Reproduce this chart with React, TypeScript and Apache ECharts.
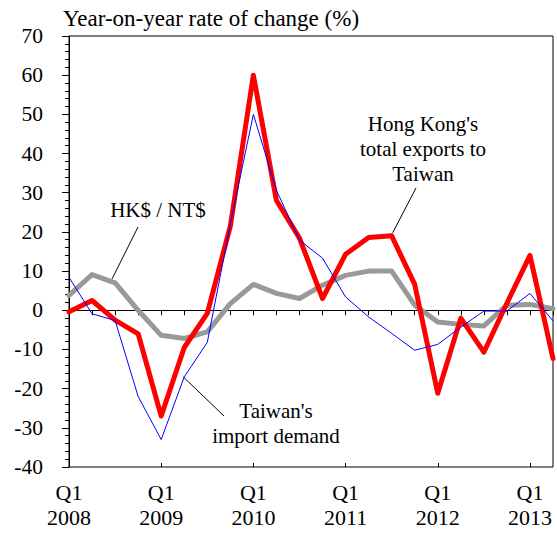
import React, { useEffect, useRef } from "react";
import * as echarts from "echarts";

const categories = [
  "Q1 2008", "Q2 2008", "Q3 2008", "Q4 2008",
  "Q1 2009", "Q2 2009", "Q3 2009", "Q4 2009",
  "Q1 2010", "Q2 2010", "Q3 2010", "Q4 2010",
  "Q1 2011", "Q2 2011", "Q3 2011", "Q4 2011",
  "Q1 2012", "Q2 2012", "Q3 2012", "Q4 2012",
  "Q1 2013", "Q2 2013",
];
const hkExportsToTaiwan = [-0.4, 2.5, -2.5, -6, -27, -9.5, -0.8, 21.5, 60, 28, 18.4, 3, 14.3, 18.6, 19, 6.6, -21.2, -2, -10.7, 1.8, 14, -12.3];
const taiwanImportDemand = [8.4, -0.9, -2.6, -22, -33, -17, -8.2, 22, 50, 30.6, 17.9, 13.3, 3.4, -1.7, -5.9, -10.2, -8.7, -4.3, -0.2, -0.2, 4.3, -2.7];
const hkdPerNtd = [3.8, 9.1, 7, 0, -6.4, -7.2, -5.5, 1.7, 6.6, 4.3, 3, 6.4, 8.9, 10, 10, 1.3, -3, -3.6, -4, 1.3, 1.5, 0.4];

const yMin = -40;
const yMax = 70;
const yStep = 10;

const FONT = "Liberation Serif";

export default function App() {
  const ref = useRef<HTMLDivElement>(null);
  useEffect(() => {
    if (!ref.current) return;
    document.body.style.margin = "0";
    const chart = echarts.init(ref.current, undefined, { renderer: "svg" });
    chart.setOption({
      animation: false,
      backgroundColor: "#fff",
      title: {
        text: "Year-on-year rate of change (%)",
        left: 63,
        top: 7,
        padding: 0,
        textStyle: { fontFamily: FONT, fontSize: 23, fontWeight: "normal", color: "#000" },
      },
      grid: {
        left: 69,
        right: 4,
        top: 36,
        bottom: 67,
        show: true,
        borderColor: "#000",
        borderWidth: 1,
        backgroundColor: "transparent",
      },
      xAxis: [
        {
          type: "category",
          data: categories,
          boundaryGap: false,
          axisLine: { lineStyle: { color: "#000", width: 1 } },
          axisTick: { show: true, interval: 0, length: 5, inside: false, lineStyle: { color: "#000" } },
          axisLabel: {
            fontFamily: FONT,
            fontSize: 22,
            color: "#000",
            interval: 3,
            margin: 13,
            lineHeight: 25,
            formatter: (v: string) => {
              const [q, y] = v.split(" ");
              return q + "\n" + y;
            },
          },
          splitLine: { show: false },
        },
        {
          type: "category",
          data: categories,
          boundaryGap: false,
          position: "bottom",
          axisLine: { show: false },
          axisTick: { show: true, interval: 3, length: 4, inside: true, lineStyle: { color: "#000" } },
          axisLabel: { show: false },
          splitLine: { show: false },
        },
      ],
      yAxis: {
        type: "value",
        min: yMin,
        max: yMax,
        interval: yStep,
        axisLine: { show: true, lineStyle: { color: "#000", width: 1 } },
        axisTick: { show: true, length: 7, lineStyle: { color: "#000" } },
        minorTick: { show: true, splitNumber: 5, length: 4, lineStyle: { color: "#000" } },
        axisLabel: { fontFamily: FONT, fontSize: 21.5, color: "#000", margin: 26 },
        splitLine: { show: false },
      },
      series: [
        {
          name: "HK$ / NT$",
          type: "line",
          data: hkdPerNtd,
          symbol: "none",
          lineStyle: { color: "#999999", width: 5, join: "round", cap: "round" },
          z: 2,
          markLine: {
            silent: true,
            symbol: "none",
            label: { show: false },
            lineStyle: { color: "#000", width: 1, type: "solid" },
            data: [{ yAxis: 0 }],
            z: 1,
          },
        },
        {
          name: "Hong Kong's total exports to Taiwan",
          type: "line",
          data: hkExportsToTaiwan,
          symbol: "none",
          lineStyle: { color: "#ff0000", width: 5, join: "round", cap: "round" },
          z: 3,
        },
        {
          name: "Taiwan's import demand",
          type: "line",
          data: taiwanImportDemand,
          symbol: "none",
          lineStyle: { color: "#0000ff", width: 1 },
          z: 4,
        },
      ],
    });

    const px = (i: number, v: number) => chart.convertToPixel({ gridIndex: 0 }, [i, v]) as number[];
    const red = px(14, hkExportsToTaiwan[14]);
    const gray = px(2, hkdPerNtd[2]);
    const blue = px(5, taiwanImportDemand[5]);
    const annStyle = { fontFamily: FONT, fontSize: 21, fill: "#000", align: "center", verticalAlign: "middle", lineHeight: 25 };
    chart.setOption({
      graphic: [
        { type: "text", x: 423, y: 149, style: { ...annStyle, text: "Hong Kong's\ntotal exports to\nTaiwan" } },
        { type: "line", shape: { x1: 416, y1: 188, x2: red[0] + 1, y2: red[1] - 3 }, style: { stroke: "#000", lineWidth: 1 } },
        { type: "text", x: 158, y: 210, style: { ...annStyle, text: "HK$ / NT$" } },
        { type: "line", shape: { x1: 138, y1: 227, x2: gray[0] - 3, y2: gray[1] - 4 }, style: { stroke: "#000", lineWidth: 1 } },
        { type: "text", x: 276, y: 423, style: { ...annStyle, text: "Taiwan's\nimport demand" } },
        { type: "line", shape: { x1: blue[0] - 1, y1: blue[1], x2: 224, y2: 416 }, style: { stroke: "#000", lineWidth: 1 } },
      ],
    });
    return () => chart.dispose();
  }, []);
  return <div ref={ref} style={{ width: 557, height: 534 }} />;
}
